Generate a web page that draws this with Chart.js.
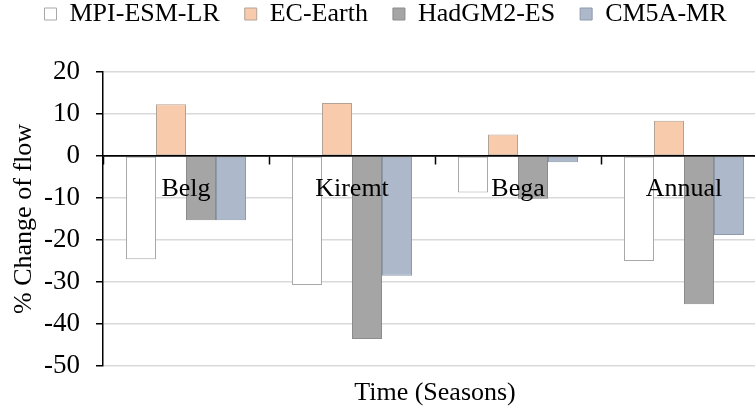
<!DOCTYPE html>
<html>
<head>
<meta charset="utf-8">
<script src="https://cdn.jsdelivr.net/npm/chart.js@4"></script>
<style>
    html, body { margin: 0; padding: 0; background: #fff; overflow: hidden; }
    #wrap { width: 770px; height: 409px; }
</style>
</head>
<body>
<div id="wrap"><canvas id="flow_change"></canvas></div>
<script>
const seasons = ["Belg", "Kiremt", "Bega", "Annual"];
const mpiEsmLr = [-24.6, -30.7, -8.7, -25.0];
const ecEarth = [12.3, 12.6, 5.1, 8.4];
const hadGem2Es = [-15.3, -43.6, -10.2, -35.3];
const cm5aMr = [-15.3, -28.5, -1.5, -18.8];

const serif = "'Liberation Serif', 'Times New Roman', serif";

// push the plot down below the legend
const legendMargin = {
    id: "legendMargin",
    beforeInit(chart) {
        const fit = chart.legend.fit;
        chart.legend.fit = function () {
            fit.bind(chart.legend)();
            this.height += 35;
        };
    },
};

new Chart(document.getElementById("flow_change"), {
    type: "bar",
    data: {
        labels: seasons,
        datasets: [
            {
                label: "MPI-ESM-LR",
                data: mpiEsmLr,
                backgroundColor: "#ffffff",
                borderColor: "#a8a8a8",
            },
            {
                label: "EC-Earth",
                data: ecEarth,
                backgroundColor: "#f8cbad",
                borderColor: "#b3a296",
            },
            {
                label: "HadGM2-ES",
                data: hadGem2Es,
                backgroundColor: "#a5a5a5",
                borderColor: "#8c8c8c",
            },
            {
                label: "CM5A-MR",
                data: cm5aMr,
                backgroundColor: "#adb9ca",
                borderColor: "#8e9aab",
            },
        ],
    },
    options: {
        responsive: true,
        maintainAspectRatio: false,
        animation: false,
        layout: {
            padding: { top: -24, left: 4, right: 3, bottom: 0 },
        },
        datasets: {
            bar: {
                borderWidth: 1,
                borderSkipped: false,
                categoryPercentage: 0.723,
                barPercentage: 1.0,
            },
        },
        scales: {
            x: {
                grid: { display: false },
                border: { display: false },
                ticks: { display: false },
                afterFit: (scale) => {
                    scale.height = 43;
                },
                title: {
                    display: true,
                    text: "Time (Seasons)",
                    color: "#000",
                    font: { family: serif, size: 26 },
                    padding: { top: 10, bottom: 0 },
                },
            },
            x2: {
                type: "category",
                labels: seasons,
                offset: true,
                position: { y: 0 },
                grid: {
                    offset: true,
                    drawOnChartArea: false,
                    tickLength: 8,
                    tickColor: "#000",
                    tickWidth: 1.5,
                },
                border: { color: "#000", width: 1.5, z: 1 },
                ticks: {
                    color: "#000",
                    padding: 10,
                    z: 1,
                    font: { family: serif, size: 26 },
                },
            },
            y: {
                min: -50,
                max: 20,
                afterFit: (scale) => {
                    scale.width = 99;
                },
                ticks: {
                    stepSize: 10,
                    color: "#000",
                    padding: 16,
                    font: { family: serif, size: 27 },
                },
                grid: {
                    color: (ctx) => (ctx.tick && ctx.tick.value === 0 ? "#000" : "#d9d9d9"),
                    lineWidth: 1.5,
                    tickLength: 7,
                    tickColor: "#000",
                },
                border: { color: "#000", width: 1.5 },
                title: {
                    display: true,
                    text: "% Change of flow",
                    color: "#000",
                    font: { family: serif, size: 26 },
                    padding: { top: 5, bottom: 4 },
                },
            },
        },
        plugins: {
            legend: {
                position: "top",
                labels: {
                    color: "#000",
                    boxWidth: 12,
                    boxHeight: 12,
                    padding: 25,
                    font: { family: serif, size: 26 },
                },
            },
            tooltip: { enabled: false },
        },
    },
    plugins: [legendMargin],
});
</script>
</body>
</html>
